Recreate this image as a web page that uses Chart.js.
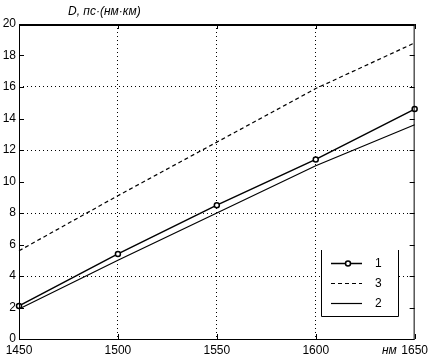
<!DOCTYPE html>
<html>
<head>
<meta charset="utf-8">
<script src="https://cdn.jsdelivr.net/npm/chart.js@4/dist/chart.umd.min.js"></script>
<style>
  html, body { margin: 0; padding: 0; background: #fff; }
  #wrap { width: 432px; height: 364px; }
</style>
</head>
<body>
<div id="wrap"><canvas id="chart"></canvas></div>
<script>
// wavelength, nm
const wavelengths = [1450, 1500, 1550, 1600, 1650];
// dispersion D, ps/(nm*km)
const curve1 = [2.1, 5.4, 8.5, 11.4, 14.6];
const curve3 = [5.6, 9.1, 12.5, 15.9, 18.8];
const curve2 = [1.9, 5.0, 8.0, 11.0, 13.6];
const legendLabels = ["1", "3", "2"];
const yAxisTitle = "D, пс·(нм·км)";
const xAxisUnit = "нм";

const FONT = "Liberation Sans, Arial, sans-serif";

const toPoints = vals => vals.map((v, i) => ({ x: wavelengths[i], y: v }));

// frame + inward tick marks like the original plot
const framePlugin = {
  id: "frame",
  afterDraw(chart) {
    const { ctx, chartArea: a, scales } = chart;
    ctx.save();
    ctx.strokeStyle = "#000";
    ctx.lineWidth = 1;
    ctx.beginPath();
    ctx.rect(a.left + 0.5, a.top + 0.5, a.right - a.left - 1, a.bottom - a.top);
    ctx.stroke();
    ctx.lineWidth = 2;
    ctx.beginPath();
    ctx.moveTo(a.left, a.top + 1);
    ctx.lineTo(a.right, a.top + 1);
    ctx.stroke();
    ctx.lineWidth = 1;
    const len = 5;
    ctx.beginPath();
    scales.x.ticks.forEach(t => {
      const px = Math.round(scales.x.getPixelForValue(t.value)) + 0.5;
      ctx.moveTo(px, a.bottom); ctx.lineTo(px, a.bottom - len);
      ctx.moveTo(px, a.top); ctx.lineTo(px, a.top + len);
    });
    scales.y.ticks.forEach(t => {
      const py = Math.round(scales.y.getPixelForValue(t.value)) + 0.5;
      ctx.moveTo(a.left, py); ctx.lineTo(a.left + len, py);
      ctx.moveTo(a.right, py); ctx.lineTo(a.right - len, py);
    });
    ctx.stroke();

    // axis captions
    ctx.fillStyle = "#000";
    ctx.font = "italic 12px " + FONT;
    ctx.textBaseline = "middle";
    ctx.textAlign = "left";
    ctx.fillText(yAxisTitle, 68, 12);
    ctx.fillText(xAxisUnit, 382, 351);
    ctx.restore();
  }
};

// boxed legend inside the plot, lower right
const legendPlugin = {
  id: "boxLegend",
  afterDraw(chart) {
    const { ctx } = chart;
    const x0 = 321, x1 = 398, y0 = 250, y1 = 316;
    ctx.save();
    ctx.fillStyle = "#fff";
    ctx.fillRect(x0, y0, x1 - x0, y1 - y0);
    ctx.strokeStyle = "#000";
    ctx.lineWidth = 1;
    ctx.beginPath();
    ctx.moveTo(x0 + 0.5, y0); ctx.lineTo(x0 + 0.5, y1 + 0.5);
    ctx.lineTo(x1 + 0.5, y1 + 0.5); ctx.lineTo(x1 + 0.5, y0);
    ctx.stroke();
    ctx.font = "12px " + FONT;
    ctx.textBaseline = "middle";
    ctx.textAlign = "left";
    chart.data.datasets.forEach((ds, i) => {
      const y = 263 + i * 20 + 0.5;
      ctx.setLineDash(ds.borderDash || []);
      ctx.lineWidth = ds.borderWidth;
      ctx.beginPath();
      ctx.moveTo(331, y); ctx.lineTo(362, y);
      ctx.stroke();
      ctx.setLineDash([]);
      if (ds.pointRadius > 0) {
        ctx.lineWidth = 1.5;
        ctx.fillStyle = "#fff";
        ctx.beginPath();
        ctx.arc(348, y, 2.5, 0, Math.PI * 2);
        ctx.fill(); ctx.stroke();
      }
      ctx.fillStyle = "#000";
      ctx.fillText(legendLabels[i], 375, y);
    });
    ctx.restore();
  }
};

new Chart(document.getElementById("chart"), {
  type: "line",
  data: {
    datasets: [
      {
        label: legendLabels[0],
        data: toPoints(curve1),
        borderColor: "#000",
        borderWidth: 1.5,
        pointRadius: 2.5,
        pointBorderWidth: 1.5,
        pointBackgroundColor: "#fff",
        pointBorderColor: "#000",
        tension: 0
      },
      {
        label: legendLabels[1],
        data: toPoints(curve3),
        borderColor: "#000",
        borderWidth: 1.2,
        borderDash: [4, 3],
        pointRadius: 0,
        tension: 0
      },
      {
        label: legendLabels[2],
        data: toPoints(curve2),
        borderColor: "#000",
        borderWidth: 1.2,
        pointRadius: 0,
        tension: 0
      }
    ]
  },
  options: {
    responsive: true,
    maintainAspectRatio: false,
    animation: false,
    clip: false,
    layout: { padding: { top: 24, right: 14, left: 0, bottom: 0 } },
    plugins: { legend: { display: false }, tooltip: { enabled: false } },
    scales: {
      x: {
        type: "linear",
        min: 1450,
        max: 1650,
        afterFit: s => { s.height = 25; },
        ticks: {
          stepSize: 50,
          padding: 4,
          color: "#000",
          font: { family: FONT, size: 12 },
          maxRotation: 0,
          callback: v => String(v)
        },
        border: { display: false, dash: [1, 3] },
        grid: {
          drawTicks: false,
          color: c => (c.tick && c.tick.value > 1450 && c.tick.value < 1650 ? "#000" : "rgba(0,0,0,0)"),
          lineWidth: 1
        }
      },
      y: {
        min: 0,
        max: 20,
        afterFit: s => { s.width = 19; },
        ticks: {
          stepSize: 2,
          padding: 3,
          color: "#000",
          font: { family: FONT, size: 12 }
        },
        border: { display: false, dash: [1, 3] },
        grid: {
          drawTicks: false,
          color: c => {
            const v = c.tick ? c.tick.value : 0;
            return v % 4 === 0 && v > 0 && v < 20 ? "#000" : "rgba(0,0,0,0)";
          },
          lineWidth: 1
        }
      }
    }
  },
  plugins: [framePlugin, legendPlugin]
});
</script>
</body>
</html>
